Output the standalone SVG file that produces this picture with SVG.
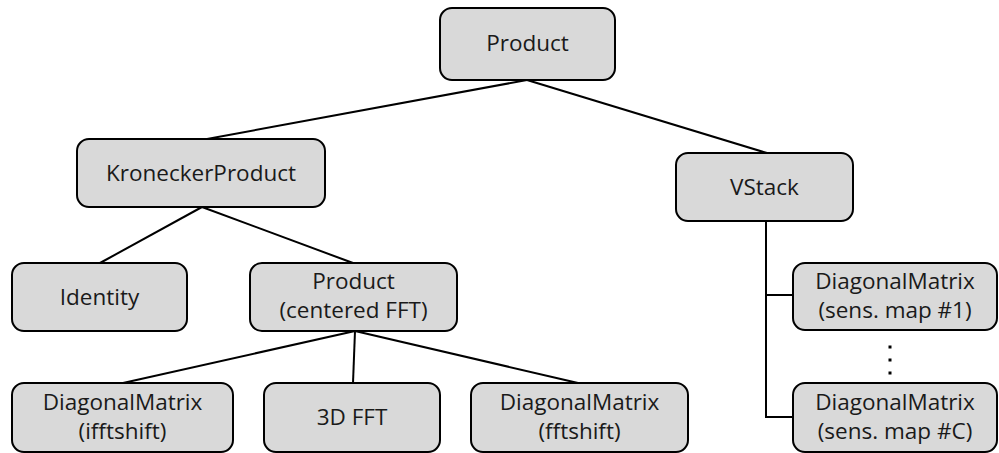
<svg xmlns="http://www.w3.org/2000/svg" width="999" height="453" viewBox="0 0 999 453">
  <style>
    .box { fill: #d9d9d9; stroke: #000; stroke-width: 2; }
    .lbl { font-family: "Open Sans", "Noto Sans", sans-serif; font-size: 22.5px; fill: #1a1a1a; text-anchor: middle; }
    .edge { stroke: #000; stroke-width: 2; fill: none; }
  </style>

  <!-- connectors -->
  <g id="connectors">
    <line class="edge" x1="527" y1="80" x2="207" y2="139"/>
    <line class="edge" x1="527" y1="80" x2="767" y2="153"/>
    <line class="edge" x1="202" y1="207" x2="100" y2="263"/>
    <line class="edge" x1="202" y1="207" x2="353" y2="263"/>
    <line class="edge" x1="355" y1="331" x2="123" y2="383"/>
    <line class="edge" x1="355" y1="331" x2="353" y2="383"/>
    <line class="edge" x1="355" y1="331" x2="578" y2="383"/>
    <polyline class="edge" points="766,221 766,417 793,417"/>
    <line class="edge" x1="766" y1="295" x2="793" y2="295"/>
  </g>

  <!-- nodes -->
  <g id="product-root">
    <rect class="box" x="440" y="8" width="175" height="72" rx="12"/>
    <text class="lbl" x="527.5" y="51">Product</text>
  </g>
  <g id="kronecker">
    <rect class="box" x="77" y="139" width="248" height="68" rx="12"/>
    <text class="lbl" x="201" y="181">KroneckerProduct</text>
  </g>
  <g id="vstack">
    <rect class="box" x="676" y="153" width="177" height="68" rx="12"/>
    <text class="lbl" x="764.5" y="195">VStack</text>
  </g>
  <g id="identity">
    <rect class="box" x="12" y="263" width="175" height="68" rx="12"/>
    <text class="lbl" x="99.5" y="305">Identity</text>
  </g>
  <g id="product-fft">
    <rect class="box" x="250" y="263" width="207" height="68" rx="12"/>
    <text class="lbl" x="353.5" y="289">Product</text>
    <text class="lbl" x="353.5" y="318">(centered FFT)</text>
  </g>
  <g id="diag-ifftshift">
    <rect class="box" x="12" y="383" width="221" height="69" rx="12"/>
    <text class="lbl" x="122.5" y="410">DiagonalMatrix</text>
    <text class="lbl" x="122.5" y="439">(ifftshift)</text>
  </g>
  <g id="fft3d">
    <rect class="box" x="264" y="383" width="176" height="69" rx="12"/>
    <text class="lbl" x="352" y="425">3D FFT</text>
  </g>
  <g id="diag-fftshift">
    <rect class="box" x="471" y="383" width="217" height="69" rx="12"/>
    <text class="lbl" x="579.5" y="410">DiagonalMatrix</text>
    <text class="lbl" x="579.5" y="439">(fftshift)</text>
  </g>
  <g id="diag-sens-1">
    <rect class="box" x="793" y="263" width="204" height="67" rx="12"/>
    <text class="lbl" x="895" y="289">DiagonalMatrix</text>
    <text class="lbl" x="895" y="318">(sens. map #1)</text>
  </g>
  <g id="ellipsis">
    <rect x="888.5" y="345.5" width="3" height="3" fill="#000"/>
    <rect x="888.5" y="358.5" width="3" height="3" fill="#000"/>
    <rect x="888.5" y="371.5" width="3" height="3" fill="#000"/>
  </g>
  <g id="diag-sens-c">
    <rect class="box" x="793" y="383" width="204" height="69" rx="12"/>
    <text class="lbl" x="895" y="410">DiagonalMatrix</text>
    <text class="lbl" x="895" y="439">(sens. map #C)</text>
  </g>
</svg>
